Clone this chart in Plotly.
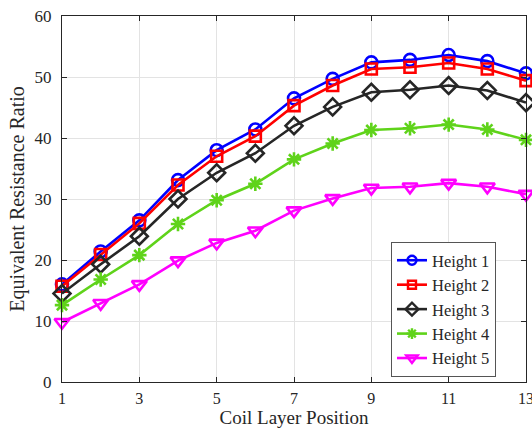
import plotly.graph_objects as go

x = list(range(1, 14))
h1 = [16.0, 21.4, 26.5, 33.1, 38.0, 41.4, 46.5, 49.7, 52.4, 52.8, 53.6, 52.6, 50.6]
h2 = [15.7, 20.9, 26.0, 32.3, 37.0, 40.3, 45.3, 48.6, 51.3, 51.6, 52.3, 51.3, 49.4]
h3 = [14.5, 19.3, 23.9, 30.0, 34.3, 37.5, 42.0, 45.1, 47.5, 47.9, 48.6, 47.8, 45.8]
h4 = [12.6, 16.8, 20.8, 25.9, 29.8, 32.5, 36.5, 39.1, 41.3, 41.6, 42.2, 41.4, 39.7]
h5 = [9.8, 12.9, 16.0, 19.9, 22.8, 24.8, 28.1, 30.1, 31.8, 32.0, 32.6, 32.0, 30.8]

names = ["Height 1", "Height 2", "Height 3", "Height 4", "Height 5"]
series = [h1, h2, h3, h4, h5]
colors = ["#0000FF", "#FF0000", "#262626", "#5FD31A", "#FF00FF"]
symbols = ["circle-open", "square-open", "diamond-open", "asterisk-open", "triangle-down-open"]
sizes = [12, 11, 13, 12, 13]
legend_sizes = [9, 8, 10, 9, 10]

fig = go.Figure()
for n, y, c, s, sz in zip(names, series, colors, symbols, sizes):
    fig.add_trace(go.Scatter(
        x=x, y=y, name=n, mode="lines+markers", showlegend=False,
        line=dict(color=c, width=2.6),
        marker=dict(symbol=s, size=sz, color=c, line=dict(color=c, width=2.6)),
        cliponaxis=False,
    ))
# legend entries with smaller markers (as in the reference legend)
for n, c, s, sz in zip(names, colors, symbols, legend_sizes):
    fig.add_trace(go.Scatter(
        x=[None], y=[None], name=n, mode="lines+markers",
        line=dict(color=c, width=2.6),
        marker=dict(symbol=s, size=sz, color=c, line=dict(color=c, width=2.4)),
    ))

axis_common = dict(
    showline=True, linecolor="#262626", linewidth=1, mirror="ticks",
    ticks="inside", ticklen=5, tickcolor="#262626",
    showgrid=True, gridcolor="#E3E3E3", gridwidth=1,
    zeroline=False, ticklabeloverflow="allow", automargin=False,
)

fig.update_layout(
    width=532, height=430,
    margin=dict(l=62, r=6, t=16, b=48),
    paper_bgcolor="white", plot_bgcolor="white",
    font=dict(family="Liberation Serif", color="#262626"),
    xaxis=dict(range=[1, 13], tickvals=[1, 3, 5, 7, 9, 11, 13],
               ticklabelstandoff=2,
               tickfont=dict(family="Liberation Serif", size=16, color="#262626"),
               title=dict(text="Coil Layer Position", font=dict(family="Liberation Serif", size=19, color="#262626"), standoff=3),
               **axis_common),
    yaxis=dict(range=[0, 60], tickvals=[0, 10, 20, 30, 40, 50, 60],
               ticklabelstandoff=6,
               tickfont=dict(family="Liberation Serif", size=17, color="#262626"),
               title=dict(text="Equivalent Resistance Ratio", font=dict(family="Liberation Serif", size=20, color="#262626"), standoff=4),
               **axis_common),
    legend=dict(
        x=0.709, y=0.3825, xanchor="left", yanchor="top",
        bgcolor="white", bordercolor="#555555", borderwidth=1,
        font=dict(family="Liberation Serif", size=16.5, color="#262626"),
        tracegroupgap=0, itemsizing="trace",
    ),
    showlegend=True,
)

fig.write_html("out.html")
